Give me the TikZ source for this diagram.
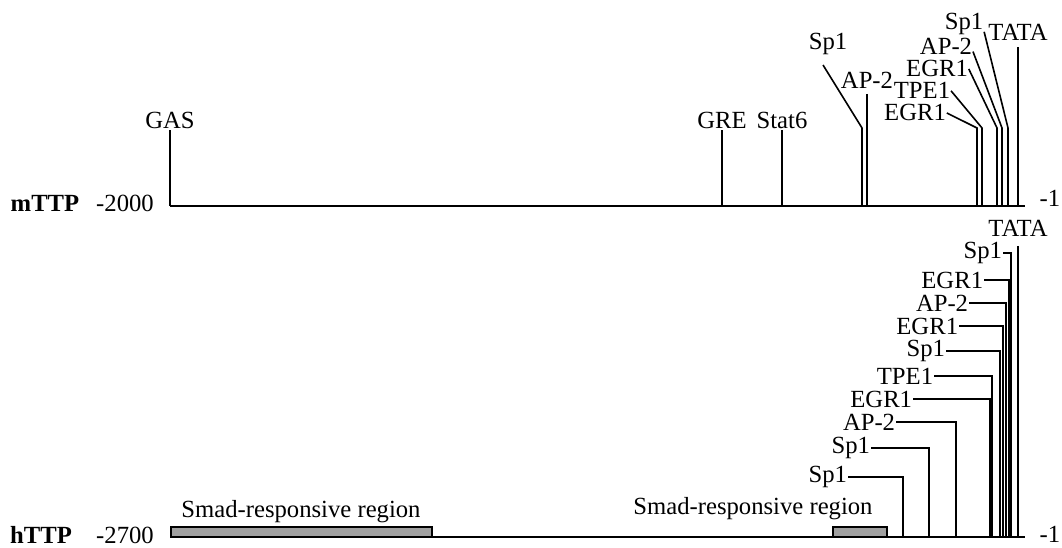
\documentclass[tikz,border=0pt]{standalone}
\usepackage{fontspec}
\setmainfont{Liberation Serif}
\definecolor{boxgray}{RGB}{160,160,160}

\tikzset{
  lbl/.style={font=\fontsize{18.5}{20}\selectfont, inner sep=0.5pt},
  axis/.style={line width=1.5pt},
  tick/.style={line width=1.2pt},
  smadbox/.style={draw, line width=1pt, fill=boxgray}
}

\begin{document}
\begin{tikzpicture}[x=0.75pt,y=-0.75pt]
\useasboundingbox (0,0) rectangle (1062,548);

% mTTP promoter
\coordinate (mL) at (170,206);
\coordinate (mR) at (1025,206);
\draw[axis] (mL) -- (mR);
\node[lbl,anchor=base] (mname) at (45,212) {\textbf{mTTP}};
\node[lbl,anchor=base] (mstart) at (125,212) {-2000};
\node[lbl,anchor=base] (mend) at (1050,207) {-1};

\node[lbl,anchor=base] (mgas) at (170,129) {GAS};
\node[lbl,anchor=base] (mgre) at (722,129) {GRE};
\node[lbl,anchor=base] (mstat) at (782,129) {Stat6};
\node[lbl,anchor=base] (map2a) at (867,89) {AP-2};
\node[lbl,anchor=base] (mtata) at (1018,41) {TATA};
\draw[tick] (mgas.south) -- (mgas.south |- mL);
\draw[tick] (mgre.south) -- (mgre.south |- mL);
\draw[tick] (mstat.south) -- (mstat.south |- mL);
\draw[tick, shorten <=3pt] (map2a.south) -- (map2a.south |- mL);
\draw[tick, shorten <=4pt] (mtata.south) -- (mtata.south |- mL);

\node[lbl,anchor=base] (msp1a) at (828,50) {Sp1};
\node[lbl,anchor=base] (megr1a) at (915,121) {EGR1};
\node[lbl,anchor=base] (mtpe) at (922,99) {TPE1};
\node[lbl,anchor=base] (megr1b) at (937,77) {EGR1};
\node[lbl,anchor=base] (map2b) at (946,55) {AP-2};
\node[lbl,anchor=base] (msp1b) at (964,30) {Sp1};
\coordinate (msp1aleg) at (823,65);
\coordinate (ksp1a) at (862,128);
\coordinate (kegr1a) at (977,128);
\coordinate (ktpe) at (982,128);
\coordinate (kegr1b) at (997,128);
\coordinate (kap2b) at (1002,128);
\coordinate (ksp1b) at (1008,128);
\draw[tick] (msp1aleg) -- (ksp1a) -- (ksp1a |- mL);
\draw[tick] (megr1a.east) -- (kegr1a) -- (kegr1a |- mL);
\draw[tick] (mtpe.east) -- (ktpe) -- (ktpe |- mL);
\draw[tick] (megr1b.east) -- (kegr1b) -- (kegr1b |- mL);
\draw[tick] (map2b.-10) -- (kap2b) -- (kap2b |- mL);
\draw[tick] (msp1b.-20) -- (ksp1b) -- (ksp1b |- mL);

% hTTP promoter
\coordinate (hL) at (170,537);
\coordinate (hR) at (1025,537);
\draw[axis] (hL) -- (hR);
\node[lbl,anchor=base] (hname) at (41,543) {\textbf{hTTP}};
\node[lbl,anchor=base] (hstart) at (125,543) {-2700};
\node[lbl,anchor=base] (hend) at (1050,542) {-1};

\draw[smadbox] (171,527) rectangle (432,537);   % Smad box 1
\draw[smadbox] (833,527) rectangle (887,537);   % Smad box 2
\node[lbl,anchor=base] (hsmad1) at (301,517) {Smad-responsive region};
\node[lbl,anchor=base] (hsmad2) at (753,514) {Smad-responsive region};

\node[lbl,anchor=east] (hsp1a) at (848,477) {Sp1};
\node[lbl,anchor=east] (hsp1b) at (871,448) {Sp1};
\node[lbl,anchor=east] (hap2a) at (896,422) {AP-2};
\node[lbl,anchor=east] (hegr1a) at (913,399) {EGR1};
\node[lbl,anchor=east] (htpe) at (934,376) {TPE1};
\node[lbl,anchor=east] (hsp1c) at (946,351) {Sp1};
\node[lbl,anchor=east] (hegr1b) at (959,326) {EGR1};
\node[lbl,anchor=east] (hap2b) at (969,303) {AP-2};
\node[lbl,anchor=east] (hegr1c) at (984,280) {EGR1};
\node[lbl,anchor=east] (hsp1d) at (1003,253) {Sp1};
\node[lbl,anchor=base] (htata) at (1018,237) {TATA};

\coordinate (fsp1a) at (903,537);
\coordinate (fsp1b) at (929,537);
\coordinate (fap2a) at (956,537);
\coordinate (fegr1a) at (990,537);
\coordinate (ftpe) at (992,537);
\coordinate (fsp1c) at (1000,537);
\coordinate (fegr1b) at (1003,537);
\coordinate (fap2b) at (1006,537);
\coordinate (fegr1c) at (1009,537);
\coordinate (fsp1d) at (1011,537);
\draw[tick] (hsp1a.east) -| (fsp1a);
\draw[tick] (hsp1b.east) -| (fsp1b);
\draw[tick] (hap2a.east) -| (fap2a);
\draw[tick] (hegr1a.east) -| (fegr1a);
\draw[tick] (htpe.east) -| (ftpe);
\draw[tick] (hsp1c.east) -| (fsp1c);
\draw[tick] (hegr1b.east) -| (fegr1b);
\draw[tick] (hap2b.east) -| (fap2b);
\draw[tick] (hegr1c.east) -| (fegr1c);
\draw[tick] (hsp1d.east) -| (fsp1d);
\draw[tick, shorten <=6pt] (htata.south) -- (htata.south |- hL);
\end{tikzpicture}
\end{document}
